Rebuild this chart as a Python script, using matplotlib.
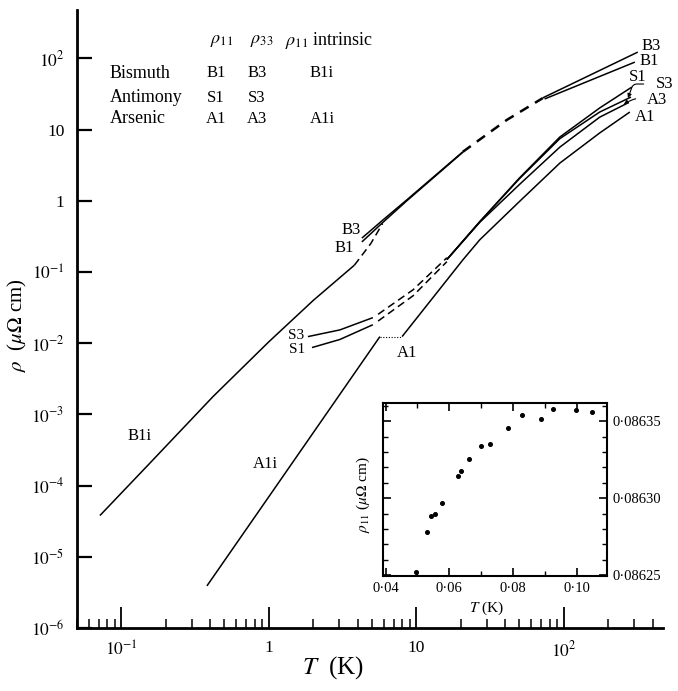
import numpy as np
import matplotlib.pyplot as plt
from matplotlib.ticker import LogLocator, NullLocator, FixedLocator, MultipleLocator, FuncFormatter

plt.rcParams['font.family'] = ['Liberation Serif', 'DejaVu Serif']
plt.rcParams['mathtext.fontset'] = 'stix'

# ---- main chart data (T in K, rho in micro-ohm cm) ----
# bismuth intrinsic rho11
b1i_T = [0.0715, 0.15, 0.42, 1.0, 2.0, 3.8]
b1i_rho = [3.8e-5, 1.9e-4, 1.8e-3, 1.05e-2, 4.0e-2, 1.25e-1]
b1i_dash_T = [3.8, 4.9, 5.9]
b1i_dash_rho = [0.125, 0.25, 0.48]

# bismuth rho33 / rho11
b3_T = [4.27, 6.0, 8.6, 20.6]
b3_rho = [0.30, 0.55, 1.03, 4.87]
b1_T = [4.27, 6.0, 8.6, 20.6]
b1_rho = [0.265, 0.51, 1.0, 4.8]
b_dash_T = [20.6, 41, 72]
b_dash_rho = [4.87, 13.7, 27.8]
b3_hi_T = [72, 317]
b3_hi_rho = [28.0, 123]
b1_hi_T = [74, 303]
b1_hi_rho = [27.0, 89]

# antimony
s3_T = [1.84, 3.03, 5.07]
s3_rho = [0.0124, 0.0154, 0.0229]
s3_dash_T = [5.5, 9.5, 16.1]
s3_dash_rho = [0.0255, 0.0564, 0.159]
s1_T = [1.96, 3.03, 5.07]
s1_rho = [0.0087, 0.0113, 0.0182]
s1_dash_T = [5.5, 9.5, 16.1]
s1_dash_rho = [0.0205, 0.0465, 0.14]
s1_hi_T = [16.1, 26.9, 50, 94, 175, 289]
s1_hi_rho = [0.15, 0.51, 2.1, 7.9, 20.2, 39.7]
s3_hi_T = [16.1, 26.9, 50, 94, 175, 285]
s3_hi_rho = [0.15, 0.51, 2.05, 7.5, 17.7, 28.7]

# arsenic
a3_T = [16.1, 26.9, 50, 94, 175, 270]
a3_rho = [0.15, 0.5, 1.7, 5.7, 15.0, 23.6]
a1_T = [8.0, 20.7, 26.9, 50, 94, 175, 280]
a1_rho = [0.0124, 0.149, 0.284, 0.98, 3.4, 9.0, 17.7]
a1i_T = [0.38, 1.0, 5.66]
a1i_rho = [3.9e-6, 7.0e-5, 0.0124]
a1_gap_T = [5.66, 8.0]
a1_gap_rho = [0.0124, 0.0124]

# ---- inset data: bismuth rho11 at very low T ----
ins_T = [0.0496, 0.0529, 0.0541, 0.0556, 0.0577, 0.0627, 0.0638, 0.0663,
         0.0700, 0.0727, 0.0785, 0.0827, 0.0886, 0.0925, 0.0996, 0.1046]
ins_rho = [0.0862522, 0.0862778, 0.0862885, 0.0862900, 0.0862970, 0.0863146,
           0.0863180, 0.0863254, 0.0863341, 0.0863350, 0.0863454, 0.0863543,
           0.0863517, 0.0863580, 0.0863576, 0.0863559]

x_major = [0.1, 1, 10, 100]
x_labels = [r'$10^{-1}$', '1', '10', r'$10^{2}$']
y_major = [1e-6, 1e-5, 1e-4, 1e-3, 1e-2, 1e-1, 1, 10, 100]
y_labels = [r'$10^{-6}$', r'$10^{-5}$', r'$10^{-4}$', r'$10^{-3}$', r'$10^{-2}$',
            r'$10^{-1}$', '1', '10', r'$10^{2}$']

fig = plt.figure(figsize=(6.78, 6.91), dpi=100)
ax = fig.add_axes([77 / 678, 63 / 691, 586 / 678, 618 / 691])
ax.set_xscale('log')
ax.set_yscale('log')
ax.set_xlim(0.05, 470)
ax.set_ylim(1e-6, 480)

lw = 1.1
k = 'black'
solid = dict(color=k, lw=lw, solid_capstyle='butt', solid_joinstyle='round')
dashed = dict(color=k, lw=lw, ls=(0, (5, 3)))

ax.plot(b1i_T, b1i_rho, **solid)
ax.plot(b1i_dash_T, b1i_dash_rho, **dashed)
ax.plot(b3_T, b3_rho, **solid)
ax.plot(b1_T, b1_rho, **solid)
ax.plot(b_dash_T, b_dash_rho, color=k, lw=1.8, ls=(0, (4, 3)))
ax.plot(b3_hi_T, b3_hi_rho, **solid)
ax.plot(b1_hi_T, b1_hi_rho, **solid)

ax.plot(s3_T, s3_rho, **solid)
ax.plot(s1_T, s1_rho, **solid)
ax.plot(s3_dash_T, s3_dash_rho, **dashed)
ax.plot(s1_dash_T, s1_dash_rho, **dashed)
ax.plot(s1_hi_T, s1_hi_rho, **solid)
ax.plot(s3_hi_T, s3_hi_rho, **solid)

ax.plot(a3_T, a3_rho, **solid)
ax.plot(a1_T, a1_rho, **solid)
ax.plot(a1i_T, a1i_rho, **solid)
ax.plot(a1_gap_T, a1_gap_rho, color=k, lw=0.8, ls=(0, (1, 1.5)))

# axes styling
for s in ['top', 'right']:
    ax.spines[s].set_visible(False)
for s in ['left', 'bottom']:
    ax.spines[s].set_linewidth(2)

ax.xaxis.set_major_locator(FixedLocator(x_major))
ax.xaxis.set_minor_locator(LogLocator(base=10, subs=np.arange(2, 10)))
ax.set_xticklabels(x_labels)
ax.yaxis.set_major_locator(FixedLocator(y_major))
ax.yaxis.set_minor_locator(NullLocator())
ax.set_yticklabels(y_labels)
ax.tick_params(axis='x', which='major', direction='in', length=15, width=1.3,
               labelsize=12.5, pad=9)
ax.tick_params(axis='x', which='minor', direction='in', length=6.5, width=1.1)
ax.tick_params(axis='y', which='major', direction='in', length=11, width=1.6,
               labelsize=12.5, pad=9)

ax.set_xlabel(r'$T$  (K)', fontsize=18)
ax.xaxis.set_label_coords(0.437, -0.042)
ax.set_ylabel(r'$\rho$  ($\mu\Omega$ cm)', fontsize=15)
ax.yaxis.set_label_coords(-0.082, 0.49)

# legend-like table
tab = dict(transform=ax.transAxes, fontsize=13, va='center')
ax.text(0.247, 0.951, r'$\rho_{11}$', ha='center', **tab)
ax.text(0.316, 0.951, r'$\rho_{33}$', ha='center', **tab)
ax.text(0.355, 0.951, r'$\rho_{11}$ intrinsic', ha='left', **tab)
rows = ['Bismuth', 'Antimony', 'Arsenic']
row_codes = [['B1', 'B3', 'B1i'], ['S1', 'S3', ''], ['A1', 'A3', 'A1i']]
row_y = [0.898, 0.858, 0.824]
for name, codes, yy in zip(rows, row_codes, row_y):
    ax.text(0.056, yy, name, ha='left', **tab)
    for xx, c in zip([0.237, 0.307, 0.418], codes):
        ax.text(xx, yy, c, ha='center', transform=ax.transAxes, fontsize=12,
                va='center')

# curve labels
lab = dict(fontsize=12, ha='center', va='center')
ax.text(3.6, 0.39, 'B3', **lab)
ax.text(3.22, 0.22, 'B1', **lab)
ax.text(1.52, 0.0129, 'S3', fontsize=11, ha='center', va='center')
ax.text(1.55, 0.0083, 'S1', fontsize=11, ha='center', va='center')
ax.text(8.6, 0.0074, 'A1', **lab)
ax.text(0.133, 4.9e-4, 'B1i', **lab)
ax.text(0.94, 2.0e-4, 'A1i', **lab)
ax.text(389, 149, 'B3', **lab)
ax.text(377, 92, 'B1', **lab)
ax.text(318, 54.8, 'S1', **lab)
ax.text(354, 15.1, 'A1', **lab)
ax.annotate('S3', xy=(272, 27.8), xytext=(484, 43.8), fontsize=12,
            ha='center', va='center', annotation_clip=False,
            arrowprops=dict(arrowstyle='-|>', lw=0.8, color=k, mutation_scale=6,
                            shrinkA=7, shrinkB=0,
                            connectionstyle='angle,angleA=0,angleB=70,rad=4'))
ax.annotate('A3', xy=(255, 22.8), xytext=(427, 26.1), fontsize=12,
            ha='center', va='center', annotation_clip=False,
            arrowprops=dict(arrowstyle='-|>', lw=0.8, color=k, mutation_scale=6,
                            shrinkA=6, shrinkB=0,
                            connectionstyle='arc3,rad=0.25'))

# ---- inset ----
axi = fig.add_axes([383 / 678, 115 / 691, 224 / 678, 173 / 691])
axi.plot(ins_T, ins_rho, 'o', color=k, markersize=2.6)
axi.set_xlim(0.0392, 0.1094)
axi.set_ylim(0.0862493, 0.0863620)
for s in axi.spines.values():
    s.set_linewidth(1.5)
axi.xaxis.set_major_locator(MultipleLocator(0.02))
axi.xaxis.set_minor_locator(MultipleLocator(0.01))
axi.yaxis.set_major_locator(MultipleLocator(0.00005))
axi.yaxis.set_minor_locator(MultipleLocator(0.00001))
axi.xaxis.set_major_formatter(FuncFormatter(lambda v, p: f'{v:.2f}'.replace('.', '\u00b7')))
axi.yaxis.set_major_formatter(FuncFormatter(lambda v, p: f'{v:.5f}'.replace('.', '\u00b7')))
axi.tick_params(which='both', direction='in', top=True, bottom=True, left=True,
                right=True, labelleft=False, labelright=True)
axi.tick_params(which='major', length=6, width=1.2, labelsize=10.5, pad=4)
axi.tick_params(which='minor', length=3.5, width=1.0)
axi.set_xlabel(r'$T$ (K)', fontsize=11)
axi.xaxis.set_label_coords(0.464, -0.135)
axi.set_ylabel(r'$\rho_{11}$ ($\mu\Omega$ cm)', fontsize=11)
axi.yaxis.set_label_coords(-0.05, 0.47)

fig.savefig('out.png', dpi=100)
